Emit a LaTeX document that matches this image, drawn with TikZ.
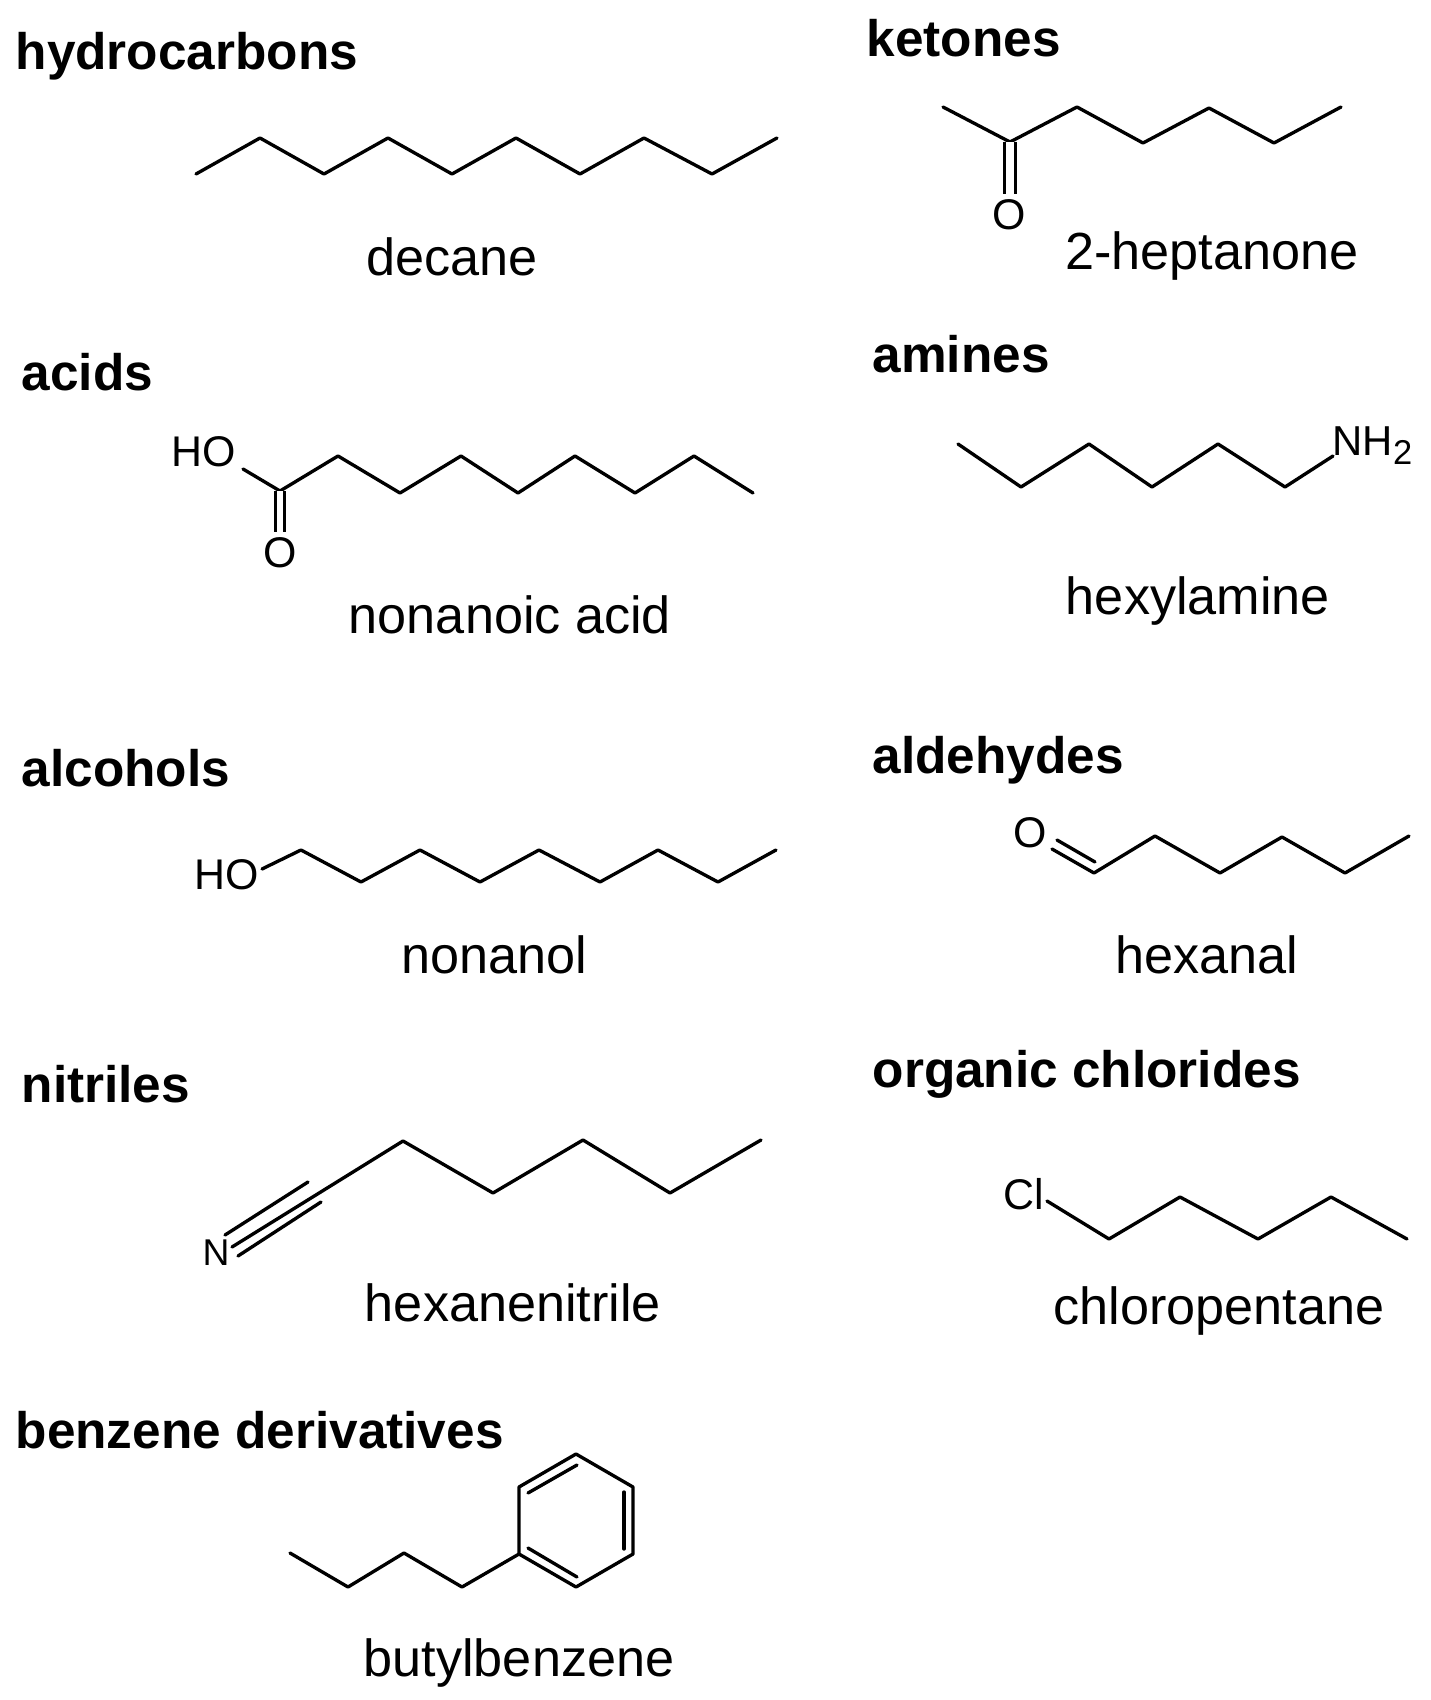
\documentclass[tikz,border=0pt]{standalone}
\usepackage{fontspec}
\setmainfont{Liberation Sans}
\tikzset{
  pt/.style={coordinate},
  atom/.style={font=\fontsize{12.2}{13}\selectfont, inner sep=1.4pt},
  family/.style={font=\fontsize{14.6}{16}\selectfont\bfseries, inner sep=0pt, anchor=base west},
  compound/.style={font=\fontsize{14.85}{16}\selectfont, inner sep=0pt, anchor=base},
  bond/.style={line width=0.95pt, line cap=round, line join=round},
  dbl/.style={line width=0.95pt, double, double distance=2.2pt},
}
\begin{document}
\begin{tikzpicture}[x=0.01cm, y=-0.01cm]
  \useasboundingbox (0,0) rectangle (1431,1700);

  % left column
  \node[family] (h1) at (15,70) {hydrocarbons};
  \node[pt] (d1)  at (196,174) {};
  \node[pt] (d2)  at (260,138) {};
  \node[pt] (d3)  at (324,174) {};
  \node[pt] (d4)  at (388,138) {};
  \node[pt] (d5)  at (452,174) {};
  \node[pt] (d6)  at (516,138) {};
  \node[pt] (d7)  at (580,174) {};
  \node[pt] (d8)  at (644,138) {};
  \node[pt] (d9)  at (712,174) {};
  \node[pt] (d10) at (777,138) {};
  \draw[bond] (d1) -- (d2) -- (d3) -- (d4) -- (d5) -- (d6) -- (d7) -- (d8) -- (d9) -- (d10);
  \node[compound] (c1) at (452,275) {decane};

  \node[family] (h2) at (21,390) {acids};
  \node[atom] (aHO) at (204,452) {HO};
  \node[atom] (aO)  at (280,553) {O};
  \node[pt] (a0) at (243,469) {};
  \node[pt] (a1) at (280,491) {};
  \node[pt] (a2) at (338,456) {};
  \node[pt] (a3) at (400,493) {};
  \node[pt] (a4) at (461,456) {};
  \node[pt] (a5) at (518,493) {};
  \node[pt] (a6) at (575,456) {};
  \node[pt] (a7) at (635,493) {};
  \node[pt] (a8) at (694,456) {};
  \node[pt] (a9) at (753,493) {};
  \draw[bond] (a0) -- (a1) -- (a2) -- (a3) -- (a4) -- (a5) -- (a6) -- (a7) -- (a8) -- (a9);
  \draw[dbl, double distance=1.5pt] (a1) -- (aO);
  \node[compound] (c2) at (510,633) {nonanoic acid};

  \node[family] (h3) at (21,786) {alcohols};
  \node[atom] (oHO) at (227,875) {HO};
  \node[pt] (o0) at (262,869) {};
  \node[pt] (o1) at (301,850) {};
  \node[pt] (o2) at (361,882) {};
  \node[pt] (o3) at (420,850) {};
  \node[pt] (o4) at (480,882) {};
  \node[pt] (o5) at (539,850) {};
  \node[pt] (o6) at (600,882) {};
  \node[pt] (o7) at (658,850) {};
  \node[pt] (o8) at (718,882) {};
  \node[pt] (o9) at (776,850) {};
  \draw[bond] (o0) -- (o1) -- (o2) -- (o3) -- (o4) -- (o5) -- (o6) -- (o7) -- (o8) -- (o9);
  \node[compound] (c3) at (494,973) {nonanol};

  \node[family] (h4) at (21,1102) {nitriles};
  \node[atom, font=\fontsize{10.6}{12}\selectfont] (nN) at (216,1253) {N};
  \node[pt] (n0) at (232,1247) {};
  \node[pt] (n1) at (403,1141) {};
  \node[pt] (n2) at (493,1193) {};
  \node[pt] (n3) at (583,1140) {};
  \node[pt] (n4) at (670,1193) {};
  \node[pt] (n5) at (761,1140) {};
  \node[pt] (n6) at (225,1235) {};
  \node[pt] (n7) at (308,1182) {};
  \node[pt] (n8) at (238,1256) {};
  \node[pt] (n9) at (321,1202) {};
  \draw[bond] (n0) -- (n1) -- (n2) -- (n3) -- (n4) -- (n5);
  \draw[bond] (n6) -- (n7);
  \draw[bond] (n8) -- (n9);
  \node[compound] (c4) at (513,1321) {hexanenitrile};

  \node[family] (h5) at (15,1448) {benzene derivatives};
  \node[pt] (b1) at (290,1553) {};
  \node[pt] (b2) at (348,1587) {};
  \node[pt] (b3) at (404,1553) {};
  \node[pt] (b4) at (462,1587) {};
  \node[pt] (r1) at (519,1554) {};
  \node[pt] (r2) at (519,1487) {};
  \node[pt] (r3) at (576,1454) {};
  \node[pt] (r4) at (633,1487) {};
  \node[pt] (r5) at (633,1554) {};
  \node[pt] (r6) at (576,1587) {};
  \node[pt] (i1) at (528,1493) {};
  \node[pt] (i2) at (577,1465) {};
  \node[pt] (i3) at (624,1492) {};
  \node[pt] (i4) at (624,1549) {};
  \node[pt] (i5) at (528,1548) {};
  \node[pt] (i6) at (577,1577) {};
  \draw[bond] (b1) -- (b2) -- (b3) -- (b4) -- (r1);
  \draw[bond] (r1) -- (r2) -- (r3) -- (r4) -- (r5) -- (r6) -- cycle;
  \draw[bond] (i1) -- (i2);
  \draw[bond] (i3) -- (i4);
  \draw[bond] (i5) -- (i6);
  \node[compound] (c5) at (519,1676) {butylbenzene};

  % right column
  \node[family] (h6) at (866,57) {ketones};
  \node[atom] (kO) at (1009,215) {O};
  \node[pt] (k1) at (943,107) {};
  \node[pt] (k2) at (1010,142) {};
  \node[pt] (k3) at (1077,107) {};
  \node[pt] (k4) at (1143,143) {};
  \node[pt] (k5) at (1209,108) {};
  \node[pt] (k6) at (1274,143) {};
  \node[pt] (k7) at (1341,107) {};
  \draw[bond] (k1) -- (k2) -- (k3) -- (k4) -- (k5) -- (k6) -- (k7);
  \draw[dbl] (k2) -- (k2 |- kO.north);
  \node[compound] (c6) at (1212,269) {2-heptanone};

  \node[family] (h7) at (872,372) {amines};
  \node[atom, font=\fontsize{11.9}{13}\selectfont, anchor=base west, inner sep=0pt] (mN) at (1332,455) {NH\raisebox{-2.8pt}{\fontsize{9.8}{11}\selectfont 2}};
  \node[pt] (m1) at (958,444) {};
  \node[pt] (m2) at (1021,487) {};
  \node[pt] (m3) at (1089,444) {};
  \node[pt] (m4) at (1152,487) {};
  \node[pt] (m5) at (1218,444) {};
  \node[pt] (m6) at (1285,487) {};
  \node[pt] (m7) at (1333,456) {};
  \draw[bond] (m1) -- (m2) -- (m3) -- (m4) -- (m5) -- (m6) -- (m7);
  \node[compound] (c7) at (1198,614) {hexylamine};

  \node[family] (h8) at (872,773) {aldehydes};
  \node[atom] (lO) at (1030,833) {O};
  \node[pt] (l1) at (1052,849) {};
  \node[pt] (l2) at (1094,873) {};
  \node[pt] (l3) at (1155,836) {};
  \node[pt] (l4) at (1220,873) {};
  \node[pt] (l5) at (1282,837) {};
  \node[pt] (l6) at (1345,873) {};
  \node[pt] (l7) at (1409,836) {};
  \node[pt] (l8) at (1057,840) {};
  \node[pt] (l9) at (1095,862) {};
  \draw[bond] (l1) -- (l2) -- (l3) -- (l4) -- (l5) -- (l6) -- (l7);
  \draw[bond] (l8) -- (l9);
  \node[compound] (c8) at (1207,973) {hexanal};

  \node[family] (h9) at (872,1087) {organic chlorides};
  \node[atom] (tCl) at (1024,1194) {Cl};
  \node[pt] (t0) at (1047,1201) {};
  \node[pt] (t1) at (1109,1239) {};
  \node[pt] (t2) at (1180,1197) {};
  \node[pt] (t3) at (1258,1239) {};
  \node[pt] (t4) at (1331,1197) {};
  \node[pt] (t5) at (1407,1239) {};
  \draw[bond] (t0) -- (t1) -- (t2) -- (t3) -- (t4) -- (t5);
  \node[compound] (c9) at (1219,1324) {chloropentane};
\end{tikzpicture}
\end{document}
